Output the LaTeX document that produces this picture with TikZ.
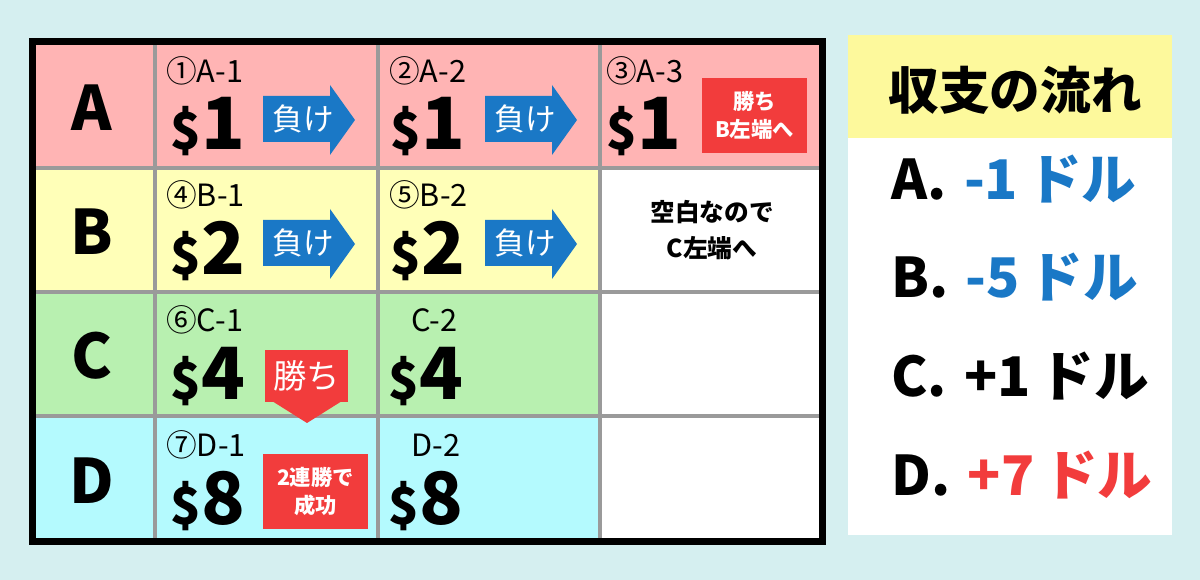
\documentclass[tikz,border=0pt]{standalone}
\usepackage{fontspec}
\setmainfont{Noto Sans CJK JP}
\definecolor{bgc}{HTML}{D5EFF0}
\definecolor{pinkc}{HTML}{FFB4B4}
\definecolor{yelc}{HTML}{FFFFB8}
\definecolor{greenc}{HTML}{B8F0B0}
\definecolor{cyanc}{HTML}{B4FAFE}
\definecolor{headc}{HTML}{FDF99C}
\definecolor{bluec}{HTML}{1A78C6}
\definecolor{redc}{HTML}{F23C3C}
\definecolor{gridc}{HTML}{9A9A9A}
\newcommand\fs[1]{\fontsize{#1}{#1}\selectfont}
\tikzset{
  gridline/.style={draw=gridc, line width=2.4pt},
  lbl/.style={anchor=base west, inner sep=0pt, font=\fs{23}},
  money/.style={anchor=base west, inner sep=0pt, font=\bfseries},
  rowlbl/.style={inner sep=0pt, font=\bfseries\fs{46}},
  wtxt/.style={text=white, inner sep=0pt, font=\bfseries, align=center},
  res/.style={anchor=base west, inner sep=0pt, font=\bfseries\fs{41}},
}
\newcommand\mon[1]{{\fs{38}\$}\hspace{0.06em}{\fs{54}#1}}
\begin{document}
\begin{tikzpicture}[x=0.75pt,y=-0.75pt]
\useasboundingbox (0,0) rectangle (1200,580);
\fill[bgc] (0,0) rectangle (1200,580);
% cell fills
\fill[pinkc] (32,41) rectangle (823,168);
\fill[yelc] (32,168) rectangle (600,292);
\fill[white] (600,168) rectangle (823,542);
\fill[greenc] (32,292) rectangle (600,416);
\fill[cyanc] (32,416) rectangle (600,542);
% grid
\foreach \x in {155,378,600} \draw[gridline] (\x,41) -- (\x,542);
\foreach \y in {168,292,416} \draw[gridline] (32,\y) -- (823,\y);
\draw[line width=5.2pt] (32.5,41.5) rectangle (822.5,541.5);
% row labels
\node[rowlbl] (rA) at (92,108) {A};
\node[rowlbl] (rB) at (92,232) {B};
\node[rowlbl] (rC) at (92,356) {C};
\node[rowlbl] (rD) at (92,481) {D};
% cell labels
\node[lbl] (l1) at (166,83) {①A-1};
\node[lbl] (l2) at (389,83) {②A-2};
\node[lbl] (l3) at (606,83) {③A-3};
\node[lbl] (l4) at (166,207) {④B-1};
\node[lbl] (l5) at (389,207) {⑤B-2};
\node[lbl] (l6) at (166,332) {⑥C-1};
\node[lbl] (l7) at (411,332) {C-2};
\node[lbl] (l8) at (166,457) {⑦D-1};
\node[lbl] (l9) at (411,457) {D-2};
% amounts
\node[money] (m1) at (170,150) {\mon{1}};
\node[money] (m2) at (390,150) {\mon{1}};
\node[money] (m3) at (606,150) {\mon{1}};
\node[money] (m4) at (170,275) {\mon{2}};
\node[money] (m5) at (390,275) {\mon{2}};
\node[money] (m6) at (170,400) {\mon{4}};
\node[money] (m7) at (388,400) {\mon{4}};
\node[money] (m8) at (170,525) {\mon{8}};
\node[money] (m9) at (388,525) {\mon{8}};
% blue arrows
\foreach \dx/\dy [count=\i] in {0/0,222/0,0/124,222/124}{
  \begin{scope}[shift={(\dx,\dy)}]
  \fill[bluec] (263,96) -- (330,96) -- (330,85) -- (355,120) -- (330,155) -- (330,142) -- (263,142) -- cycle;
  \node[wtxt, font=\fs{23}] (lose\i) at (303,119) {負け};
  \end{scope}
}
% A-3 red box
\fill[redc] (702,78) rectangle (807,153);
\node[wtxt, font=\bfseries\fs{16}] (win1) at (754.5,115.5) {\fs{16}勝ち\\[5pt]B左端へ};
% empty note
\node[inner sep=0pt, align=center, font=\bfseries\fs{18.5}] (note) at (712,230) {空白なので\\[8pt]C左端へ};
% C-1 red arrow
\fill[redc] (265,350) rectangle (348,402);
\fill[redc] (272,401) -- (342,401) -- (307,423) -- cycle;
\node[wtxt, font=\fs{25}] (win2) at (306.5,376) {勝ち};
% D-1 red box
\fill[redc] (263,454) rectangle (368,529);
\node[wtxt, font=\bfseries\fs{16}] (succ) at (315.5,491.5) {\fs{16}2連勝で\\[5pt]成功};
% right panel
\fill[white] (848,35) rectangle (1172,535);
\fill[headc] (848,35) rectangle (1172,138);
\node[inner sep=0pt, font=\bfseries\fs{38}] (title) at (1015,90) {収支の流れ};
\node[res] (ra) at (891,200) {A.\hspace{0.32em}\textcolor{bluec}{-1\hspace{0.16em}ドル}};
\node[res] (rb) at (891,298) {B.\hspace{0.32em}\textcolor{bluec}{-5\hspace{0.16em}ドル}};
\node[res] (rc) at (891,397) {C.\hspace{0.32em}+1\hspace{0.16em}ドル};
\node[res] (rd) at (891,496) {D.\hspace{0.32em}\textcolor{redc}{+7\hspace{0.16em}ドル}};
\end{tikzpicture}
\end{document}
